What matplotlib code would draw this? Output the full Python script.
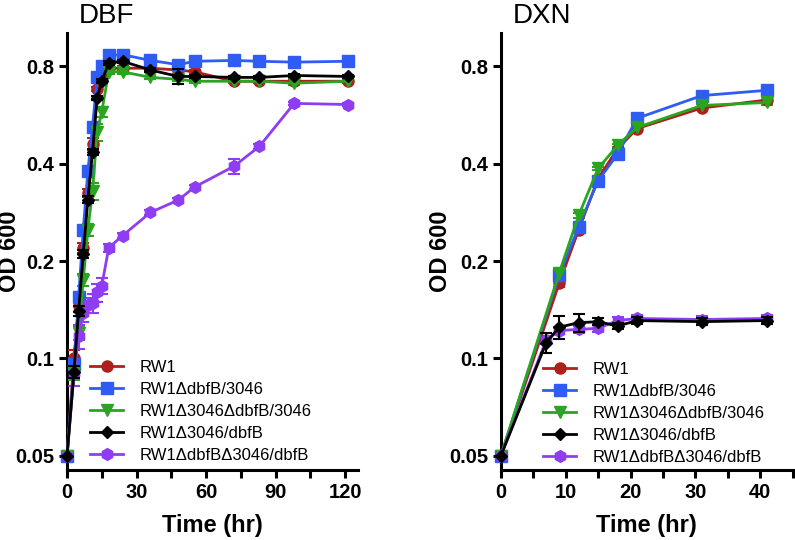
import numpy as np
import matplotlib.pyplot as plt
from matplotlib.ticker import FixedLocator, NullFormatter

plt.rcParams['font.family'] = ['Liberation Sans', 'DejaVu Sans']

labels = ['RW1', 'RW1\u0394dbfB/3046', 'RW1\u03943046\u0394dbfB/3046',
          'RW1\u03943046/dbfB', 'RW1\u0394dbfB\u03943046/dbfB']
colors = ['#B01E1E', '#2F5CF5', '#2AA51F', '#000000', '#8E3DF2']
markers = ['o', 's', 'v', 'D', 'h']
msizes = [8, 8, 8, 6.5, 8.5]

# DBF panel
t_dbf = [0, 3, 5, 7, 9, 11, 13, 15, 18, 24, 36, 48, 55, 72, 83, 98, 121]
dbf = [
    [0.05, 0.10, 0.145, 0.22, 0.325, 0.46, 0.68, 0.76, 0.79, 0.79, 0.79, 0.78, 0.77, 0.72, 0.72, 0.72, 0.72],
    [0.05, 0.096, 0.155, 0.25, 0.38, 0.52, 0.74, 0.80, 0.865, 0.87, 0.835, 0.81, 0.83, 0.835, 0.83, 0.825, 0.83],
    [0.05, 0.09, 0.12, 0.175, 0.25, 0.33, 0.50, 0.58, 0.77, 0.77, 0.74, 0.73, 0.72, 0.72, 0.72, 0.71, 0.72],
    [0.05, 0.091, 0.14, 0.21, 0.31, 0.435, 0.64, 0.72, 0.82, 0.83, 0.78, 0.745, 0.745, 0.74, 0.74, 0.75, 0.745],
    [0.05, 0.09, 0.117, 0.138, 0.146, 0.148, 0.16, 0.168, 0.22, 0.24, 0.283, 0.309, 0.339, 0.393, 0.453, 0.615, 0.61],
]
dbf_err = [
    [0, 0.006, 0.006, 0.008, 0.01, 0.02, 0.01, 0.01, 0.01, 0.01, 0.01, 0.02, 0.01, 0.01, 0.01, 0.01, 0.01],
    [0, 0.004, 0.005, 0.006, 0.008, 0.01, 0.01, 0.01, 0.01, 0.01, 0.01, 0.01, 0.01, 0.01, 0.01, 0.01, 0.01],
    [0, 0.004, 0.006, 0.008, 0.01, 0.02, 0.03, 0.02, 0.01, 0.01, 0.01, 0.01, 0.01, 0.01, 0.01, 0.01, 0.01],
    [0, 0.004, 0.005, 0.006, 0.008, 0.01, 0.01, 0.01, 0.01, 0.01, 0.01, 0.04, 0.01, 0.01, 0.01, 0.01, 0.01],
    [0, 0.008, 0.01, 0.008, 0.008, 0.01, 0.01, 0.01, 0.006, 0.005, 0.005, 0.005, 0.005, 0.02, 0.008, 0.005, 0.005],
]

# DXN panel
t_dxn = [0, 7, 9, 12, 15, 18, 21, 31, 41]
dxn = [
    [0.05, None, 0.171, 0.25, 0.36, 0.445, 0.514, 0.595, 0.63],
    [0.05, None, 0.181, 0.255, 0.355, 0.428, 0.553, 0.65, 0.675],
    [0.05, None, 0.184, 0.277, 0.387, 0.456, 0.518, 0.606, 0.619],
    [0.05, 0.112, 0.125, 0.129, 0.13, 0.126, 0.131, 0.13, 0.131],
    [0.05, 0.114, 0.122, 0.123, 0.124, 0.131, 0.133, 0.132, 0.133],
]
dxn_err = [
    [0, 0, 0.005, 0.005, 0.005, 0.005, 0.005, 0.005, 0.02],
    [0, 0, 0.005, 0.005, 0.005, 0.005, 0.005, 0.005, 0.005],
    [0, 0, 0.005, 0.005, 0.005, 0.005, 0.005, 0.005, 0.01],
    [0, 0.008, 0.01, 0.008, 0.003, 0.003, 0.003, 0.003, 0.003],
    [0, 0.003, 0.003, 0.003, 0.003, 0.003, 0.003, 0.003, 0.003],
]

yticks = [0.05, 0.1, 0.2, 0.4, 0.8]
ytick_labels = ['0.05', '0.1', '0.2', '0.4', '0.8']

fig = plt.figure(figsize=(7.95, 5.4), dpi=100)
ax1 = fig.add_axes([0.0843, 0.1296, 0.366, 0.809])
ax2 = fig.add_axes([0.630, 0.1296, 0.367, 0.809])


def draw_panel(ax, t, data, errs, title, xmax, xmajor, xminor, leg_xy, ylab_x):
    handles = []
    for i in range(len(data)):
        tt = [a for a, v in zip(t, data[i]) if v is not None]
        vv = [v for v in data[i] if v is not None]
        ee = [e for e, v in zip(errs[i], data[i]) if v is not None]
        c = ax.errorbar(tt, vv, yerr=ee, color=colors[i], marker=markers[i],
                        markersize=msizes[i], linewidth=2.0, elinewidth=1.5,
                        capsize=4, capthick=1.5, clip_on=False,
                        zorder=3 + (i == 3))
        handles.append(c.lines[0])
    ax.set_yscale('log', base=2)
    ax.set_ylim(0.0452, 1.014)
    ax.set_xlim(0, xmax)
    ax.yaxis.set_major_locator(FixedLocator(yticks))
    ax.set_yticklabels(ytick_labels)
    ax.yaxis.set_minor_formatter(NullFormatter())
    ax.yaxis.set_minor_locator(FixedLocator([]))
    ax.xaxis.set_major_locator(FixedLocator(xmajor))
    ax.xaxis.set_minor_locator(FixedLocator(xminor))
    for s in ['top', 'right']:
        ax.spines[s].set_visible(False)
    for s in ['left', 'bottom']:
        ax.spines[s].set_linewidth(2.2)
    ax.tick_params(which='major', length=6, width=2.2, labelsize=14.5, pad=3)
    ax.tick_params(which='minor', length=6, width=2.2)
    for lab in ax.get_xticklabels() + ax.get_yticklabels():
        lab.set_fontweight('bold')
    ax.set_xlabel('Time (hr)', fontsize=17, fontweight='bold', labelpad=9)
    ax.set_ylabel('OD 600', fontsize=17, fontweight='bold')
    ax.yaxis.set_label_coords(ylab_x, 0.5)
    ax.text(0.04, 1.023, title, transform=ax.transAxes, fontsize=20,
            ha='left', va='baseline')
    ax.legend(handles, labels, loc='lower left', bbox_to_anchor=leg_xy,
              frameon=False, fontsize=12, handlelength=2.0,
              handletextpad=1.0, labelspacing=0.42, borderaxespad=0,
              borderpad=0)


draw_panel(ax1, t_dbf, dbf, dbf_err, 'DBF', 125.5, [0, 30, 60, 90, 120],
           [15, 45, 75, 105], (0.079, 0.016), -0.158)
draw_panel(ax2, t_dxn, dxn, dxn_err, 'DXN', 45, [0, 10, 20, 30, 40],
           [5, 15, 25, 35, 45], (0.144, 0.011), -0.168)

fig.savefig('out.png', dpi=100)
